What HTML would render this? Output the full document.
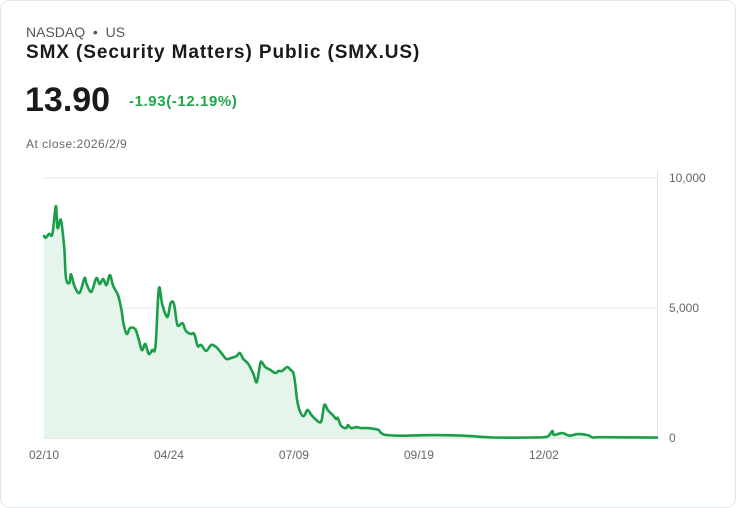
<!DOCTYPE html>
<html><head><meta charset="utf-8">
<style>
html,body{margin:0;padding:0;background:#fff;}
body{width:736px;height:508px;overflow:hidden;font-family:"Liberation Sans",Arial,sans-serif;}
.card{position:absolute;left:0;top:0;width:734px;height:506px;border:1px solid #e3e6ea;border-radius:10px;}
.t{position:absolute;white-space:nowrap;}
</style></head>
<body>
<div class="card">
  <div class="t" style="left:25px;top:23px;font-size:14px;color:#555;">NASDAQ &nbsp;•&nbsp; US</div>
  <div class="t" style="left:25px;top:41px;font-size:19px;letter-spacing:0.9px;font-weight:bold;color:#1a1a1a;">SMX (Security Matters) Public (SMX.US)</div>
  <div class="t" style="left:24px;top:80px;font-size:34px;font-weight:bold;color:#1a1a1a;">13.90</div>
  <div class="t" style="left:128px;top:92px;font-size:15px;letter-spacing:0.6px;font-weight:bold;color:#1fa64a;">-1.93(-12.19%)</div>
  <div class="t" style="left:25px;top:136px;font-size:12px;letter-spacing:0.5px;color:#666;">At close:2026/2/9</div>
  <svg id="chart" width="736" height="508" style="position:absolute;left:-1px;top:-1px;"></svg>
</div>
<script>
const days = [0,1,3,5,7,8,10,12,13,15,16,18,21,24,25,28,31,33,35,37,39,41,44,46,47,49,51,54,56,58,60,62,64,66,68,70,73,75,77,79,82,84,87,89,91,93,96,99,102,105,108,111,114,116,118,121,124,126,128,129,131,134,137,139,141,144,146,148,150,152,154,156,158,160,164,166,168,171,173,174,176,179,180,182,185,188,192,198,199,202,211,231,251,266,290,298,301,302,307,311,316,322,325,330,363];
const prices = [7770,7700,7850,7850,8920,8080,8380,7300,6150,5960,6300,5850,5580,6150,5960,5620,6150,5920,6120,5880,6270,5850,5460,4880,4420,4000,4230,4190,3810,3380,3620,3230,3380,3540,5730,5150,4650,5190,5150,4350,4420,4120,4000,4000,3540,3580,3350,3580,3500,3270,3040,3080,3150,3270,3040,2850,2460,2150,2850,2920,2730,2620,2500,2580,2580,2730,2620,2420,1420,960,850,1080,920,770,620,1270,1080,880,730,770,460,380,500,380,420,380,380,310,230,120,90,110,80,20,20,50,270,120,190,90,150,110,20,30,14];
const xTickDays = [0,74,148,222,296];
const xTickLabels = ["02/10","04/24","07/09","09/19","12/02"];
const yTicks = [0,5000,10000];
const yTickLabels = ["0","5,000","10,000"];

const NS="http://www.w3.org/2000/svg";
const svg=document.getElementById('chart');
const X0=44,X1=657,Y0=438,Y1=178,DMAX=363,VMAX=10000;
function xs(d){return X0+(X1-X0)*d/DMAX;}
function ys(v){return Y0-(Y0-Y1)*v/VMAX;}
function mk(tag,attrs){const e=document.createElementNS(NS,tag);for(const k in attrs)e.setAttribute(k,attrs[k]);svg.appendChild(e);return e;}

yTicks.forEach((v,i)=>{
  const g=mk('line',{x1:X0,x2:X1,y1:ys(v),y2:ys(v),stroke:v===0?'#cfcfcf':'#e6e6e6','stroke-width':1});
  
  
  const t=mk('text',{x:669,y:ys(v)+4,'font-size':12,fill:'#666','font-family':'Liberation Sans, sans-serif'});
  t.textContent=yTickLabels[i];
  
  
});
const ax=mk('line',{x1:X1+0.5,x2:X1+0.5,y1:171,y2:Y0,stroke:'#e3e3e3','stroke-width':1});



xTickDays.forEach((d,i)=>{
  const t=mk('text',{x:xs(d),y:459,'font-size':12,fill:'#666','text-anchor':'middle','font-family':'Liberation Sans, sans-serif'});
  t.textContent=xTickLabels[i];
  
  
});

const pts=days.map((d,i)=>[xs(d),ys(prices[i])]);
let line='M'+pts[0][0].toFixed(1)+','+pts[0][1].toFixed(1);
for(let i=0;i<pts.length-1;i++){
  const p0=pts[Math.max(0,i-1)],p1=pts[i],p2=pts[i+1],p3=pts[Math.min(pts.length-1,i+2)];
  const k=1/6;
  const c1x=p1[0]+(p2[0]-p0[0])*k,c1y=p1[1]+(p2[1]-p0[1])*k;
  const c2x=p2[0]-(p3[0]-p1[0])*k,c2y=p2[1]-(p3[1]-p1[1])*k;
  line+='C'+c1x.toFixed(1)+','+c1y.toFixed(1)+' '+c2x.toFixed(1)+','+c2y.toFixed(1)+' '+p2[0].toFixed(1)+','+p2[1].toFixed(1);
}
const area=mk('path',{d:line+'L'+pts[pts.length-1][0]+','+Y0+'L'+pts[0][0]+','+Y0+'Z',fill:'#e6f5ec'});


const p=mk('path',{d:line,fill:'none',stroke:'#1a9e48','stroke-width':2.6,'stroke-linejoin':'round','stroke-linecap':'round'});


</script>
</body></html>
